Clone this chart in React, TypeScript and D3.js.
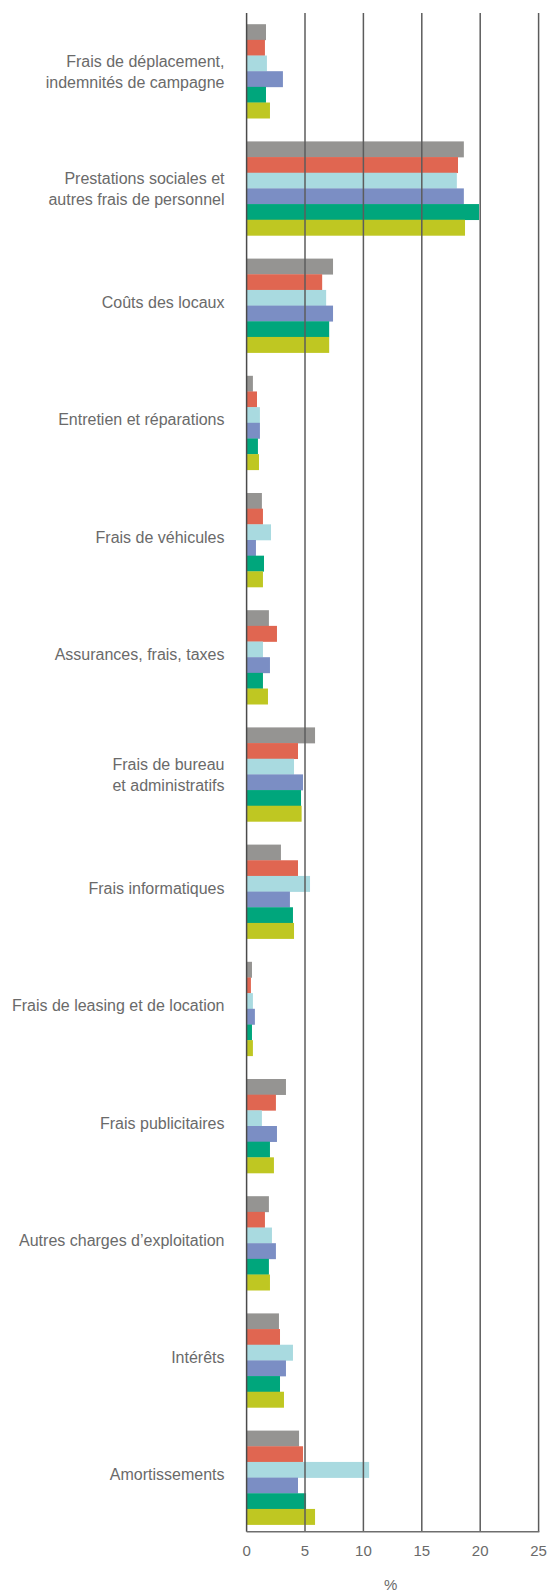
import React from "react";
import * as d3 from "d3";

const categories = [
  "Frais de déplacement,|indemnités de campagne",
  "Prestations sociales et|autres frais de personnel",
  "Coûts des locaux",
  "Entretien et réparations",
  "Frais de véhicules",
  "Assurances, frais, taxes",
  "Frais de bureau|et administratifs",
  "Frais informatiques",
  "Frais de leasing et de location",
  "Frais publicitaires",
  "Autres charges d’exploitation",
  "Intérêts",
  "Amortissements",
];

const serie1 = [1.66, 18.6, 7.4, 0.54, 1.31, 1.91, 5.86, 2.94, 0.46, 3.37, 1.91, 2.77, 4.49];
const serie2 = [1.57, 18.1, 6.47, 0.89, 1.4, 2.6, 4.4, 4.4, 0.37, 2.51, 1.57, 2.86, 4.83];
const serie3 = [1.74, 18.0, 6.81, 1.14, 2.09, 1.4, 4.06, 5.43, 0.54, 1.31, 2.17, 3.97, 10.49];
const serie4 = [3.11, 18.6, 7.4, 1.14, 0.8, 2.0, 4.83, 3.71, 0.71, 2.6, 2.51, 3.37, 4.4];
const serie5 = [1.66, 19.9, 7.07, 0.97, 1.49, 1.4, 4.66, 3.97, 0.46, 2.0, 1.91, 2.86, 5.09];
const serie6 = [2.0, 18.7, 7.07, 1.06, 1.4, 1.83, 4.71, 4.06, 0.54, 2.34, 2.0, 3.2, 5.86];

const seriesNames = ["serie1", "serie2", "serie3", "serie4", "serie5", "serie6"];
const seriesValues = [serie1, serie2, serie3, serie4, serie5, serie6];
const colors = ["#959492", "#e06651", "#a9dae0", "#7b8ec4", "#00a67c", "#bfc722"];
const xTicks = [0, 5, 10, 15, 20, 25];

const W = 549;
const H = 1593;

export default function App() {
  const x = d3.scaleLinear().domain([0, 25]).range([246.6, 538.6]);
  const step = 117.2;
  const groupH = 94;
  const y0 = d3
    .scaleBand()
    .domain(categories)
    .range([24.2, 24.2 + step * categories.length - (step - groupH)])
    .paddingInner((step - groupH) / step)
    .paddingOuter(0);
  const y1 = d3.scaleBand().domain(seriesNames).range([0, y0.bandwidth()]);

  const plotTop = 13;
  const plotBottom = 1531.7;
  const textColor = "#6a6a6a";

  return (
    <svg
      width={W}
      height={H}
      style={{ position: "absolute", left: 0, top: 0, fontFamily: "'Liberation Sans', Arial, sans-serif" }}
    >
      {/* bars */}
      {categories.map((cat, ci) => (
        <g key={cat} transform={`translate(0,${y0(cat)})`}>
          {seriesNames.map((s, si) => (
            <rect
              key={s}
              x={x(0)}
              y={y1(s)}
              width={x(seriesValues[si][ci]) - x(0)}
              height={y1.bandwidth() + 0.3}
              fill={colors[si]}
            />
          ))}
        </g>
      ))}

      {/* grid lines */}
      {xTicks.map((t) => (
        <line
          key={t}
          x1={x(t)}
          x2={x(t)}
          y1={plotTop}
          y2={plotBottom}
          stroke={t === 0 ? "#4a4a4a" : "#5c5c5c"}
          strokeWidth={1.5}
        />
      ))}
      <line x1={x(0)} x2={x(25) + 0.75} y1={plotBottom} y2={plotBottom} stroke="#6e6e6e" strokeWidth={1.5} />

      {/* category labels */}
      {categories.map((cat) => {
        const lines = cat.split("|");
        const cy = (y0(cat) ?? 0) + y0.bandwidth() / 2;
        const lh = 21;
        const off = lines.length > 1 ? 6 : 2.5;
        return (
          <text key={cat} textAnchor="end" fontSize={16} fill={textColor}>
            {lines.map((ln, i) => (
              <tspan key={i} x={224.5} y={cy + off + (i - (lines.length - 1) / 2) * lh}>
                {ln}
              </tspan>
            ))}
          </text>
        );
      })}

      {/* x tick labels */}
      {xTicks.map((t) => (
        <text key={t} x={x(t)} y={1555.5} textAnchor="middle" fontSize={15} fill={textColor}>
          {t}
        </text>
      ))}
      <text x={(x(0) + x(25)) / 2 - 2} y={1590} textAnchor="middle" fontSize={15} fill={textColor}>
        %
      </text>
    </svg>
  );
}
